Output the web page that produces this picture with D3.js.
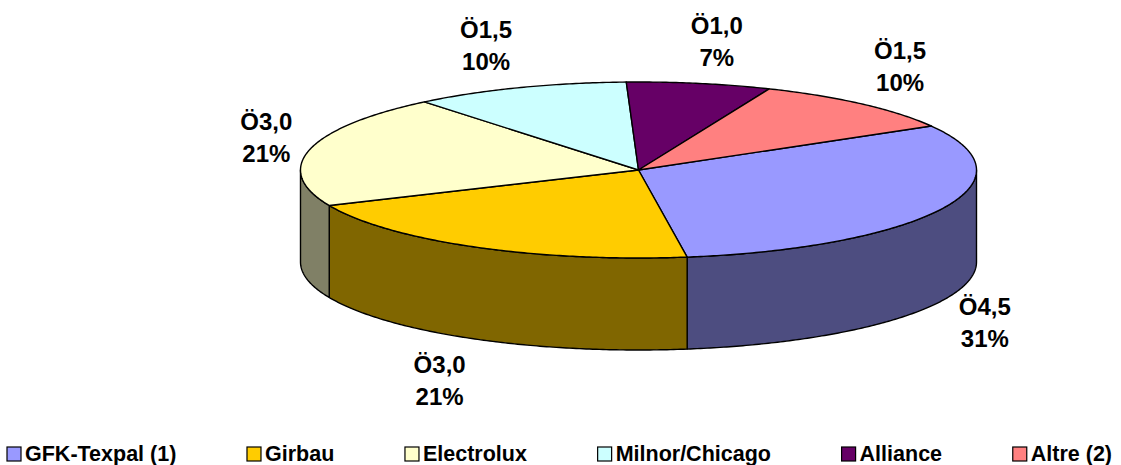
<!DOCTYPE html>
<html>
<head>
<meta charset="utf-8">
<script src="https://cdn.jsdelivr.net/npm/d3@7"></script>
<style>
  body { margin: 0; background: #fff; }
  text { font-family: "Liberation Sans", Arial, sans-serif; font-weight: bold; fill: #000; }
</style>
</head>
<body>
<svg width="1121" height="465"></svg>
<script>
// categorie en waarden
var categories = ["GFK-Texpal (1)", "Girbau", "Electrolux", "Milnor/Chicago", "Alliance", "Altre (2)"]
var values = [4.5, 3.0, 3.0, 1.5, 1.0, 1.5]
var colors = ["#9999FF", "#FFCC00", "#FFFFCC", "#CCFFFF", "#660066", "#FF8080"]

var svg = d3.select("svg")

// ellips van de 3D taart
var cx = 638.5, cy = 170, rx = 338, ry = 88, depth = 92

var x = d3.scaleLinear().domain([-1, 1]).range([cx - rx, cx + rx])
var y = d3.scaleLinear().domain([-1, 1]).range([cy - ry, cy + ry])

var total = d3.sum(values)
var pie = d3.pie().sort(null)
  .startAngle(Math.PI / 3)
  .endAngle(Math.PI / 3 + 2 * Math.PI)
var arcs = pie(values)

function pt(a, dz) {
  return [x(Math.sin(a)), y(-Math.cos(a)) + (dz || 0)]
}

function sample(a0, a1, dz) {
  var n = Math.max(2, Math.ceil(Math.abs(a1 - a0) / 0.01))
  return d3.range(n + 1).map(function(i) { return pt(a0 + (a1 - a0) * i / n, dz) })
}

var line = d3.line()

var g = svg.append("g")

// zijkanten (alleen de voorkant, tussen 90 en 270 graden)
arcs.forEach(function(d, i) {
  var a0 = Math.max(d.startAngle, Math.PI / 2)
  var a1 = Math.min(d.endAngle, 3 * Math.PI / 2)
  if (a1 <= a0) return
  var top = sample(a0, a1, 0)
  var bottom = sample(a1, a0, depth)
  var c = d3.rgb(colors[i])
  g.append("path")
    .attr("d", line(top.concat(bottom)) + "Z")
    .style("fill", d3.rgb(c.r * 0.5, c.g * 0.5, c.b * 0.5))
    .style("stroke", "#000")
    .style("stroke-width", 1.4)
    .style("stroke-linejoin", "round")
})

// bovenkant
arcs.forEach(function(d, i) {
  var pts = [[cx, cy]].concat(sample(d.startAngle, d.endAngle, 0))
  g.append("path")
    .attr("d", line(pts) + "Z")
    .style("fill", colors[i])
    .style("stroke", "#000")
    .style("stroke-width", 1.4)
    .style("stroke-linejoin", "round")
})

// labels
var fmtVal = function(v) { return "Ö" + d3.format(".1f")(v).replace(".", ",") }
var fmtPct = d3.format(".0%")
var clamp = function(v) { return Math.max(-1, Math.min(1, v)) }

arcs.forEach(function(d, i) {
  var a = (d.startAngle + d.endAngle) / 2
  var s = Math.sin(a), c = Math.cos(a)
  var lx = cx + rx * 1.05 * s + 27 * clamp(s * 3)
  var ly = cy - ry * 1.05 * c + (c < 0 ? depth : 0) - 38 * clamp(c * 1.2)
  var t = g.append("text")
    .attr("text-anchor", "middle")
    .style("font-size", "24px")
  t.append("tspan").attr("x", lx).attr("y", ly - 16).attr("dominant-baseline", "central")
    .text(fmtVal(d.data))
  t.append("tspan").attr("x", lx).attr("y", ly + 16).attr("dominant-baseline", "central")
    .text(fmtPct(d.data / total))
})

// legenda
var legend = svg.append("g")
var items = legend.selectAll("g").data(categories).enter().append("g")
items.append("rect")
  .attr("width", 14).attr("height", 14)
  .attr("y", 447)
  .style("fill", function(d, i) { return colors[i] })
  .style("stroke", "#000")
  .style("stroke-width", 1.2)
items.append("text")
  .attr("x", 18).attr("y", 454)
  .attr("dominant-baseline", "central")
  .style("font-size", "21.5px")
  .text(function(d) { return d })

var widths = []
items.each(function() { widths.push(this.getBBox().width) })
var left = 7, right = 1112
var gap = (right - left - d3.sum(widths)) / (categories.length - 1)
var pos = left
items.attr("transform", function(d, i) {
  var p = pos
  pos += widths[i] + gap
  return "translate(" + p + ",0)"
})
</script>
</body>
</html>
